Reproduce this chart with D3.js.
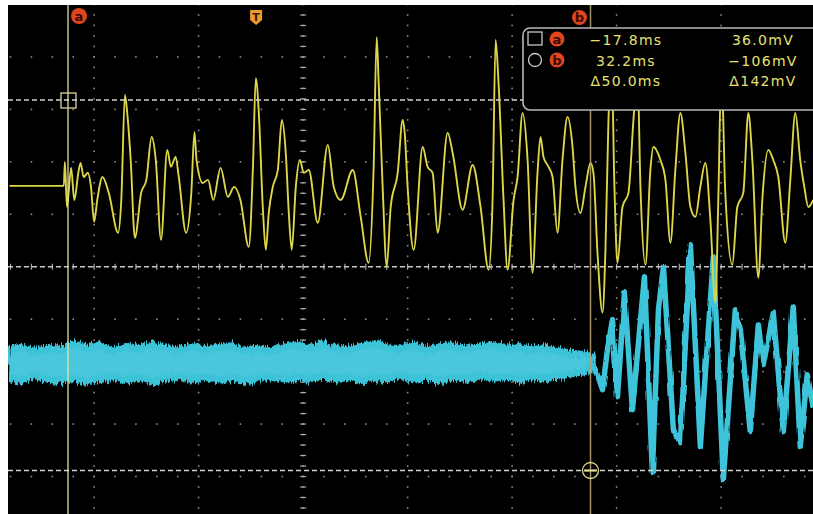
<!DOCTYPE html>
<html lang="en">
<head>
<meta charset="utf-8">
<title>Scope capture</title>
<script src="https://cdn.jsdelivr.net/npm/d3@7"></script>
<style>
  body { margin: 0; background: #fff; }
  svg { display: block; }
</style>
</head>
<body>
<script>
// screen size
var w = 813, h = 514;

// cursor readings
var cursorTimes = [-17.8, 32.2];
var cursorVolts = [36.0, -106];
var readTimes = ["\u221217.8ms", "32.2ms", "\u039450.0ms"];
var readVolts = ["36.0mV", "\u2212106mV", "\u0394142mV"];

// graticule (ms / mV)
var gridTimes = [-15.3, -5.3, 4.7, 14.7, 24.7, 34.7, 44.7];
var gridVolts = [52.5, 32.4, 12.3, -7.8, -27.9, -48.0, -68.1, -88.2, -108.3];
var centerTime = 4.7, centerVolt = -27.9;
var minorTime = 2, minorVolt = 4.02;
var triggerTime = 0.2;

// channel 1 (yellow), vertices
var ch1Time = [-23.4, -18.2, -18.1, -17.9, -17.5, -17.2, -16.8, -16.6, -16.3, -15.9,
  -15.6, -15.3, -15.0, -14.5, -13.9, -13.0, -12.7, -12.35, -12.1, -11.8,
  -11.4, -10.8, -10.3, -9.8, -9.4, -8.9, -8.3, -7.95, -7.5, -7.2,
  -6.5, -6.0, -5.7, -5.5, -4.9, -4.4, -3.9, -3.2, -2.5, -1.9,
  -1.3, -0.5, -0.1, 0.17, 0.46, 0.84, 1.13, 1.41, 1.8, 2.28,
  2.66, 3.04, 3.33, 3.61, 4.0, 4.38, 4.76, 5.24, 6.1, 7.06,
  7.63, 8.3, 9.45, 10.21, 10.97, 11.45, 11.74, 11.93, 12.31, 12.7,
  13.08, 13.75, 14.23, 14.42, 14.7, 15.28, 16.14, 16.61, 17.09, 17.57,
  18.53, 19.01, 19.96, 20.92, 21.68, 22.45, 22.83, 23.12, 23.4, 23.88,
  24.26, 24.84, 25.22, 25.7, 26.18, 26.65, 27.13, 27.42, 27.7, 28.18,
  28.57, 29.04, 29.52, 30.0, 30.48, 30.76, 31.24, 31.72, 32.2, 32.48,
  32.87, 33.35, 33.63, 33.92, 34.21, 34.49, 34.78, 35.26, 35.83, 36.31,
  36.69, 36.98, 37.46, 37.93, 38.22, 38.89, 39.37, 39.85, 40.32, 40.8,
  41.28, 41.76, 42.24, 42.71, 43.19, 43.67, 44.15, 44.43, 44.72, 45.1,
  45.77, 46.25, 46.82, 47.3, 47.69, 48.26, 48.64, 49.21, 49.69, 50.17,
  50.84, 51.32, 51.8, 52.27, 52.66, 53.04, 53.52];
var ch1Volt = [3.1, 3.1, 12.3, -5.0, 10.0, -2.3, 8.4, 11.9, 6.5, 8.1,
  2.7, -10.7, -2.3, 6.5, 0.4, -14.9, -2.3, 37.9, 29.5, 13.0,
  -16.8, 0.4, 5.4, 21.8, 13.0, -17.6, 16.9, 10.4, 14.2, 6.5,
  -14.9, 0.4, 23.8, 13.0, 4.2, 5.4, -2.3, 10.0, -1.1, 2.7,
  -2.3, -20.3, 10.4, 44.4, 31.0, -5.0, -21.4, -7.3, 2.7, 9.2,
  28.4, 15.7, -7.3, -21.4, 2.7, 13.0, 8.1, 9.2, -11.1, 18.8,
  2.7, -2.3, 9.2, -8.8, -26.4, 10.4, 60.1, 42.5, 2.7, -27.9,
  -5.0, 8.1, 28.4, 23.4, 2.7, -21.4, 18.0, 10.4, 8.1, -14.9,
  23.4, 15.7, -6.1, 11.1, -5.0, -29.1, -2.3, 59.0, 42.5, -2.3,
  -29.1, -2.3, 6.5, 31.0, 13.0, -30.2, 8.1, 21.8, 14.2, 10.4,
  6.5, -14.9, 13.0, 29.5, 18.0, 2.7, -7.3, 2.7, 11.9, 8.1,
  -22.6, -45.5, -21.4, 28.4, 51.3, 2.7, -26.4, -5.0, 0.4, 28.4,
  47.5, 2.7, -27.2, 9.2, 18.0, 13.0, 5.4, -18.7, 9.2, 31.0,
  15.7, -5.0, -8.8, 2.7, 11.9, -9.9, -41.7, -2.3, 47.5, 0.4,
  -27.2, -5.0, 0.4, 31.0, 13.0, -32.1, -2.3, 16.9, 13.0, 6.5,
  -18.7, 5.4, 31.0, 13.0, 2.7, -5.0, -2.3];

// channel 2 (cyan): noise band before the event, upper/lower edge
var bandTime = [-23.5, -22.25, -21, -19.75, -18.5, -17.25, -16, -14.75, -13.5, -12.25,
  -11, -9.75, -8.5, -7.25, -6, -4.75, -3.5, -2.25, -1, 0.25,
  1.5, 2.75, 4, 5.25, 6.5, 7.75, 9, 10.25, 11.5, 12.75,
  14, 15.25, 16.5, 17.75, 19, 20.25, 21.5, 22.75, 24, 25.25,
  26.5, 27.75, 29, 30.25, 31.5, 32.5];
var bandHigh = [-58.5, -57.2, -59.0, -57.8, -58.2, -56.0, -57.5, -56.6, -58.8, -57.0,
  -58.0, -56.4, -57.6, -58.6, -57.0, -58.2, -57.4, -56.8, -58.6, -57.8,
  -58.8, -57.2, -56.4, -57.6, -56.2, -57.8, -58.4, -57.0, -55.8, -57.6,
  -58.0, -56.6, -58.4, -57.2, -56.8, -58.2, -57.0, -56.4, -57.8, -57.2,
  -58.4, -57.6, -58.8, -59.6, -60.2, -61.0];
var bandLow = [-71.6, -72.8, -71.0, -72.4, -73.0, -72.0, -73.6, -72.2, -71.4, -72.8,
  -71.8, -73.2, -72.0, -71.2, -72.6, -71.6, -72.8, -71.8, -73.0, -72.2,
  -71.4, -72.6, -71.8, -72.4, -71.2, -72.6, -71.6, -72.8, -71.8, -72.2,
  -71.0, -72.4, -71.6, -72.8, -71.8, -72.4, -71.2, -72.0, -71.4, -72.6,
  -71.4, -72.0, -71.2, -70.4, -69.6, -68.8];

// channel 2 after the event
var ch2Time = [31.72, 32.48, 32.96, 33.35, 33.82, 34.30, 34.78, 35.45, 36.21, 37.36,
  38.12, 38.70, 39.18, 40.13, 40.80, 41.76, 42.71, 43.96, 44.91, 46.06,
  46.54, 47.49, 48.26, 48.74, 49.69, 50.65, 51.60, 52.27, 52.94, 53.52];
var ch2Volt = [-65.4, -65.8, -70.4, -75.0, -59.7, -48.2, -77.7, -37.9, -82.7, -31.7,
  -106.8, -44.4, -27.9, -90.3, -95.3, -19.5, -96.8, -24.1, -109.4, -44.4,
  -52.0, -91.1, -50.1, -65.4, -45.5, -91.1, -43.2, -96.8, -69.3, -81.9];

var xScale = d3.scaleLinear().domain([cursorTimes[0], cursorTimes[1]]).range([68, 590.5]);
var yScale = d3.scaleLinear().domain([cursorVolts[1], cursorVolts[0]]).range([470.5, 100]);

var svg = d3.select("body").append("svg")
  .attr("width", w).attr("height", h);

var defs = svg.append("defs");
defs.append("clipPath").attr("id", "screen")
  .append("rect").attr("x", 8).attr("y", 5).attr("width", w - 8).attr("height", h - 5);

function fuzz(id, fx, fy, scale) {
  var f = defs.append("filter").attr("id", id)
    .attr("x", "-3%").attr("y", "-40%").attr("width", "106%").attr("height", "180%");
  f.append("feTurbulence").attr("type", "fractalNoise")
    .attr("baseFrequency", fx + " " + fy).attr("numOctaves", 2).attr("seed", 4).attr("result", "n");
  f.append("feDisplacementMap").attr("in", "SourceGraphic").attr("in2", "n")
    .attr("scale", scale).attr("xChannelSelector", "R").attr("yChannelSelector", "G");
}
fuzz("hairBand", 0.7, 0.04, 10);
fuzz("hairLine", 0.4, 0.04, 3);

svg.append("rect").attr("width", w).attr("height", h).attr("fill", "#fff");
svg.append("rect").attr("x", 8).attr("y", 5).attr("width", w - 8).attr("height", h - 5).attr("fill", "#000");

var scr = svg.append("g").attr("clip-path", "url(#screen)");

// graticule dots
var grid = scr.append("g").attr("fill", "#8c8c8c");
var tAll = d3.range(gridTimes[0] - 10, gridTimes[gridTimes.length - 1] + 10.01, minorTime);
var vAll = d3.range(gridVolts[gridVolts.length - 1] - 20.1, gridVolts[0] + 20.2, minorVolt);
gridVolts.forEach(function(v) {
  if (v === centerVolt) return;
  grid.selectAll(null).data(tAll).enter().append("rect")
    .attr("x", function(d) { return xScale(d) - 0.8; })
    .attr("y", yScale(v) - 0.8)
    .attr("width", 1.6).attr("height", 1.6);
});
gridTimes.forEach(function(t) {
  grid.selectAll(null).data(vAll).enter().append("rect")
    .attr("x", xScale(t) - 0.8)
    .attr("y", function(d) { return yScale(d) - 0.8; })
    .attr("width", 1.6).attr("height", 1.6);
});

// center axes with ticks
var axisG = scr.append("g").attr("stroke", "#a8a8a8").attr("stroke-width", 1.2);
axisG.selectAll(null).data(vAll).enter().append("line")
  .attr("x1", xScale(centerTime) - 3).attr("x2", xScale(centerTime) + 3)
  .attr("y1", function(d) { return yScale(d); })
  .attr("y2", function(d) { return yScale(d); });
axisG.selectAll(null).data(tAll).enter().append("line")
  .attr("y1", yScale(centerVolt) - 3).attr("y2", yScale(centerVolt) + 3)
  .attr("x1", function(d) { return xScale(d); })
  .attr("x2", function(d) { return xScale(d); });
scr.append("line")
  .attr("x1", 8).attr("x2", w)
  .attr("y1", yScale(centerVolt)).attr("y2", yScale(centerVolt))
  .attr("stroke", "#c8c8c8").attr("stroke-width", 1.4).attr("stroke-dasharray", "5,3");

// channel 2 band + burst
var band = bandTime.map(function(t, i) { return [t, bandHigh[i], bandLow[i]]; });
scr.append("path").datum(band)
  .attr("d", d3.area()
    .x(function(d) { return xScale(d[0]); })
    .y0(function(d) { return yScale(d[2]); })
    .y1(function(d) { return yScale(d[1]); }))
  .attr("fill", "#3cc3d8")
  .attr("filter", "url(#hairBand)");
scr.append("path").datum(band)
  .attr("d", d3.area()
    .x(function(d) { return xScale(d[0]); })
    .y0(function(d) { return yScale(d[2] + 3); })
    .y1(function(d) { return yScale(d[1] - 3); }))
  .attr("fill", "#5ccde0").attr("opacity", 0.45)
  .attr("filter", "url(#hairBand)");

var line = d3.line()
  .x(function(d) { return xScale(d[0]); })
  .y(function(d) { return yScale(d[1]); });
var smooth = d3.line()
  .curve(d3.curveMonotoneX)
  .x(function(d) { return xScale(d[0]); })
  .y(function(d) { return yScale(d[1]); });

scr.append("path").datum(d3.zip(ch2Time, ch2Volt))
  .attr("d", line)
  .attr("fill", "none").attr("stroke", "#3ec4da").attr("stroke-width", 5.5)
  .attr("stroke-linejoin", "round")
  .attr("filter", "url(#hairLine)");

// channel 1
scr.append("path").datum(d3.zip(ch1Time, ch1Volt))
  .attr("d", smooth)
  .attr("fill", "none").attr("stroke", "#dcd648").attr("stroke-width", 1.9)
  .attr("stroke-linejoin", "round");

// cursors
var xa = xScale(cursorTimes[0]), xb = xScale(cursorTimes[1]);
var ya = yScale(cursorVolts[0]), yb = yScale(cursorVolts[1]);
var dash = scr.append("g").attr("stroke", "#d4d4d4").attr("stroke-width", 1.4).attr("stroke-dasharray", "5,3");
dash.append("line").attr("x1", 8).attr("x2", w).attr("y1", ya).attr("y2", ya);
dash.append("line").attr("x1", 8).attr("x2", w).attr("y1", yb).attr("y2", yb);
scr.append("line").attr("x1", xa).attr("x2", xa).attr("y1", 5).attr("y2", h)
  .attr("stroke", "#e6e4a0").attr("stroke-width", 1.5).attr("opacity", 0.85);
scr.append("line").attr("x1", xb).attr("x2", xb).attr("y1", 5).attr("y2", h)
  .attr("stroke", "#b4a274").attr("stroke-width", 1.5).attr("opacity", 0.9);
scr.append("rect").attr("x", xa - 7).attr("y", ya - 7).attr("width", 15).attr("height", 15)
  .attr("fill", "none").attr("stroke", "#d8d49c").attr("stroke-width", 1.3);
scr.append("circle").attr("cx", xb).attr("cy", yb).attr("r", 8)
  .attr("fill", "none").attr("stroke", "#e0d88c").attr("stroke-width", 1.3);
scr.append("line").attr("x1", xb - 6).attr("x2", xb + 6).attr("y1", yb).attr("y2", yb)
  .attr("stroke", "#e8e090").attr("stroke-width", 2);

// top markers
function badge(g, cx, cy, r, letter) {
  g.append("circle").attr("cx", cx).attr("cy", cy).attr("r", r).attr("fill", "#e2441e");
  g.append("text").attr("x", cx).attr("y", cy + 4.5).attr("text-anchor", "middle")
    .attr("font-family", "DejaVu Sans, sans-serif").attr("font-size", 13).attr("font-weight", "bold")
    .attr("fill", "#3a0c04").text(letter);
}
badge(scr, xa + 11, 16, 8, "a");
badge(scr, xb - 11, 17.5, 7.5, "b");

var xt = xScale(triggerTime);
scr.append("path")
  .attr("d", "M" + (xt - 6) + ",10 h12 v10 l-6,5 l-6,-5 z")
  .attr("fill", "#ee9a32");
scr.append("text").attr("x", xt).attr("y", 20.5).attr("text-anchor", "middle")
  .attr("font-family", "DejaVu Sans, sans-serif").attr("font-size", 11).attr("font-weight", "bold")
  .attr("fill", "#3a1a04").text("T");

// readout box
var box = scr.append("g");
box.append("rect").attr("x", 523).attr("y", 28).attr("width", 320).attr("height", 82).attr("rx", 7)
  .attr("fill", "#000").attr("stroke", "#b8b8b8").attr("stroke-width", 1.6);
box.append("rect").attr("x", 528).attr("y", 32).attr("width", 14).attr("height", 13)
  .attr("fill", "none").attr("stroke", "#c8c8c8").attr("stroke-width", 1.3);
box.append("circle").attr("cx", 535).attr("cy", 60).attr("r", 6.5)
  .attr("fill", "none").attr("stroke", "#c8c8c8").attr("stroke-width", 1.3);
badge(box, 557, 39, 7.5, "a");
badge(box, 557, 60, 7.5, "b");

var rowY = [45, 65.5, 85.5];
box.selectAll(".rt").data(readTimes).enter().append("text")
  .attr("x", 626).attr("y", function(d, i) { return rowY[i]; })
  .text(function(d) { return d; });
box.selectAll(".rv").data(readVolts).enter().append("text")
  .attr("x", 763).attr("y", function(d, i) { return rowY[i]; })
  .text(function(d) { return d; });
box.selectAll("text").filter(function() { return this.textContent.length > 2; })
  .attr("text-anchor", "middle")
  .attr("font-family", "DejaVu Sans, sans-serif").attr("font-size", 14)
  .attr("letter-spacing", 1.3).attr("fill", "#e6e072");
</script>
</body>
</html>
